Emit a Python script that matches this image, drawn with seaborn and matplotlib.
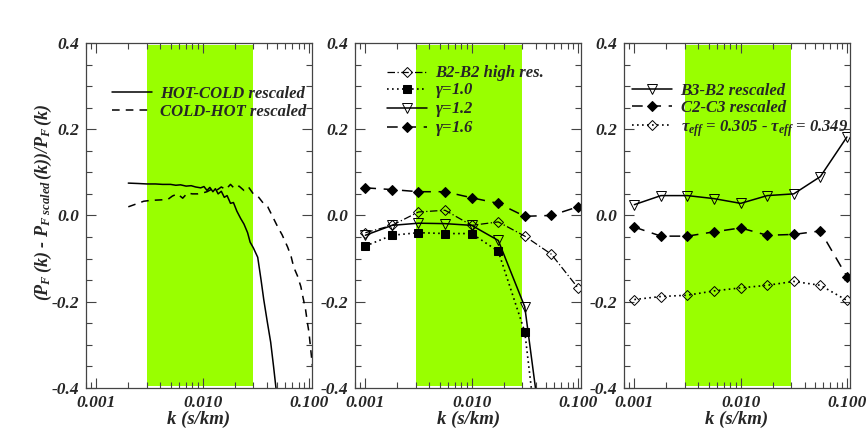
import numpy as np
import pandas as pd
import seaborn as sns
import matplotlib
matplotlib.use("Agg")
import matplotlib.pyplot as plt
from matplotlib.ticker import FixedLocator, LogLocator, MultipleLocator, NullFormatter

#panel 1 data
k_hot_cold = [0.0020, 0.0025, 0.0030, 0.0036, 0.0042, 0.0050, 0.0056, 0.0062, 0.0070, 0.0078,
              0.0086, 0.0096, 0.0103, 0.0110, 0.0117, 0.0125, 0.0132, 0.0140, 0.0150, 0.0160,
              0.0170, 0.0183, 0.0195, 0.0210, 0.0228, 0.0245, 0.0265, 0.0280, 0.0300, 0.0330,
              0.0355, 0.0376, 0.0405, 0.0437, 0.0465, 0.0490, 0.0520]
hot_cold = [0.075, 0.074, 0.073, 0.073, 0.072, 0.072, 0.070, 0.071, 0.068, 0.069,
            0.066, 0.064, 0.067, 0.058, 0.065, 0.055, 0.062, 0.050, 0.056, 0.042,
            0.046, 0.028, 0.030, 0.010, -0.007, -0.020, -0.040, -0.062, -0.075, -0.097,
            -0.150, -0.195, -0.245, -0.294, -0.350, -0.400, -0.460]
k_cold_hot = [0.0020, 0.0024, 0.0028, 0.0033, 0.0040, 0.0047, 0.0052, 0.0058, 0.0065, 0.0072,
              0.0080, 0.0090, 0.0100, 0.0110, 0.0120, 0.0135, 0.0150, 0.0165, 0.0183, 0.0200,
              0.0220, 0.0245, 0.0270, 0.0300, 0.0330, 0.0376, 0.0410, 0.0450, 0.0510, 0.0560,
              0.0630, 0.0680, 0.0720, 0.0780, 0.0840, 0.0880, 0.0930, 0.0970, 0.1000, 0.1040,
              0.1080]
cold_hot = [0.020, 0.027, 0.033, 0.035, 0.036, 0.037, 0.045, 0.050, 0.040, 0.052,
            0.050, 0.050, 0.052, 0.055, 0.060, 0.058, 0.066, 0.060, 0.072, 0.062,
            0.068, 0.058, 0.066, 0.050, 0.045, 0.027, 0.020, 0.000, -0.027, -0.045,
            -0.073, -0.095, -0.120, -0.140, -0.165, -0.190, -0.218, -0.250, -0.270, -0.310,
            -0.350]

#panels 2 and 3 share the same k grid
k_grid = [0.001, 0.00178, 0.00316, 0.00562, 0.01, 0.0178, 0.0316, 0.0562, 0.1]
b2_high_res = [-0.040, -0.023, 0.008, 0.012, -0.023, -0.015, -0.048, -0.090, -0.168]
gamma_10 = [-0.071, -0.046, -0.040, -0.042, -0.042, -0.083, -0.270, -0.800, -1.200]
gamma_12 = [-0.046, -0.023, -0.018, -0.019, -0.023, -0.058, -0.212, -0.680, -1.200]
gamma_16 = [0.064, 0.060, 0.055, 0.055, 0.041, 0.028, -0.002, 0.000, 0.020]

b3_b2 = [0.025, 0.046, 0.046, 0.039, 0.028, 0.046, 0.050, 0.090, 0.182]
c2_c3 = [-0.027, -0.048, -0.048, -0.038, -0.029, -0.046, -0.044, -0.036, -0.142]
tau_eff = [-0.195, -0.188, -0.185, -0.175, -0.168, -0.162, -0.153, -0.162, -0.197]

band = (0.003, 0.03)
x_ticks = [0.001, 0.01, 0.1]
x_tick_labels = ["0.001", "0.010", "0.100"]
y_ticks = [-0.4, -0.2, 0.0, 0.2, 0.4]
y_tick_labels = ["-0.4", "-0.2", "0.0", "0.2", "0.4"]

sns.set_style("ticks")
plt.rcParams["font.family"] = ["Liberation Serif", "DejaVu Serif"]
plt.rcParams["font.weight"] = "bold"
plt.rcParams["font.style"] = "italic"
plt.rcParams["mathtext.fontset"] = "custom"
plt.rcParams["mathtext.rm"] = "Liberation Serif:bold:italic"
plt.rcParams["mathtext.it"] = "Liberation Serif:bold:italic"
plt.rcParams["mathtext.bf"] = "Liberation Serif:bold:italic"

fig = plt.figure(figsize=(8.66, 4.32), dpi=100)
lefts = [0.0993, 0.410, 0.7206]
axes = [fig.add_axes([l, 0.102, 0.261, 0.7986]) for l in lefts]

green = "#99ff00"
txt = dict(fontweight="bold", fontstyle="italic")

def style_axis(ax):
    ax.axvspan(band[0], band[1], ymin=0.005, ymax=0.995, color=green, lw=0, zorder=0)
    ax.set_xscale("log")
    ax.set_xlim(0.0008, 0.107)
    ax.set_ylim(-0.4, 0.4)
    ax.xaxis.set_major_locator(FixedLocator(x_ticks))
    ax.set_xticklabels(x_tick_labels, fontsize=12.5, **txt)
    ax.xaxis.set_minor_locator(LogLocator(base=10, subs=np.arange(2, 10)))
    ax.xaxis.set_minor_formatter(NullFormatter())
    ax.set_yticks(y_ticks)
    ax.set_yticklabels(y_tick_labels, fontsize=12.5, **txt)
    ax.yaxis.set_minor_locator(MultipleLocator(0.05))
    ax.tick_params(which="both", direction="in", top=True, right=True, color="#444444")
    ax.tick_params(which="major", length=7, width=0.8, pad=5)
    ax.tick_params(which="minor", length=4, width=0.8)
    for s in ax.spines.values():
        s.set_color("#444444")
        s.set_linewidth(0.9)
    ax.set_xlabel("k (s/km)", fontsize=13.5, labelpad=0, **txt)

for ax in axes:
    style_axis(ax)

leg_kw = dict(loc="upper left", frameon=False, handlelength=2.4, handletextpad=0.5,
              borderpad=0, borderaxespad=0, prop=dict(family="Liberation Serif", weight="bold",
                                                      style="italic", size=12))

#panel 1
ax = axes[0]
sns.lineplot(x=k_hot_cold, y=hot_cold, ax=ax, color="black", lw=1.1, linestyle="-",
             label="HOT-COLD rescaled", sort=False)
sns.lineplot(x=k_cold_hot, y=cold_hot, ax=ax, color="black", lw=1.1, linestyle=(0, (5, 4)),
             label="COLD-HOT rescaled", sort=False)
ax.set_ylabel(r"$(P_F\,(k)$ - $P_{F\ scaled}\,(k))/P_F\,(k)$", fontsize=13, **txt)
ax.yaxis.set_label_coords(-0.142, 0.54)
ax.legend(bbox_to_anchor=(0.115, 0.875), labelspacing=0.1, **leg_kw)

#panel 2
ax = axes[1]
sns.lineplot(x=k_grid, y=b2_high_res, ax=ax, color="black", lw=0.9, linestyle=(0, (6, 2, 1, 2)),
             marker="D", markersize=5.5, mfc="none", mec="black", mew=0.7, label="B2-B2 high res.")
sns.lineplot(x=k_grid, y=gamma_10, ax=ax, color="black", lw=1.2, linestyle=(0, (1, 2)),
             marker="s", markersize=6, mfc="black", mec="black", label=r"$\gamma$=1.0")
sns.lineplot(x=k_grid, y=gamma_12, ax=ax, color="black", lw=1.1, linestyle="-",
             marker="v", markersize=7, mfc="none", mec="black", mew=0.7, label=r"$\gamma$=1.2")
sns.lineplot(x=k_grid, y=gamma_16, ax=ax, color="black", lw=1.1, linestyle=(0, (7, 5)),
             marker="D", markersize=5.5, mfc="black", mec="black", label=r"$\gamma$=1.6")
ax.set_ylabel("")
ax.legend(bbox_to_anchor=(0.142, 0.935), labelspacing=0.0, **leg_kw)

#panel 3
ax = axes[2]
sns.lineplot(x=k_grid, y=b3_b2, ax=ax, color="black", lw=1.1, linestyle="-",
             marker="v", markersize=7, mfc="none", mec="black", mew=0.7, label="B3-B2 rescaled")
sns.lineplot(x=k_grid, y=c2_c3, ax=ax, color="black", lw=1.1, linestyle=(0, (7, 5)),
             marker="D", markersize=5.5, mfc="black", mec="black", label="C2-C3 rescaled")
sns.lineplot(x=k_grid, y=tau_eff, ax=ax, color="black", lw=1.2, linestyle=(0, (1, 2)),
             marker="D", markersize=5.5, mfc="none", mec="black", mew=0.7,
             label=r"$\tau_{eff}$ = 0.305 - $\tau_{eff}$ = 0.349")
ax.set_ylabel("")
ax.legend(bbox_to_anchor=(0.036, 0.885), labelspacing=0.1, **leg_kw)

fig.savefig("out.png", dpi=100)
